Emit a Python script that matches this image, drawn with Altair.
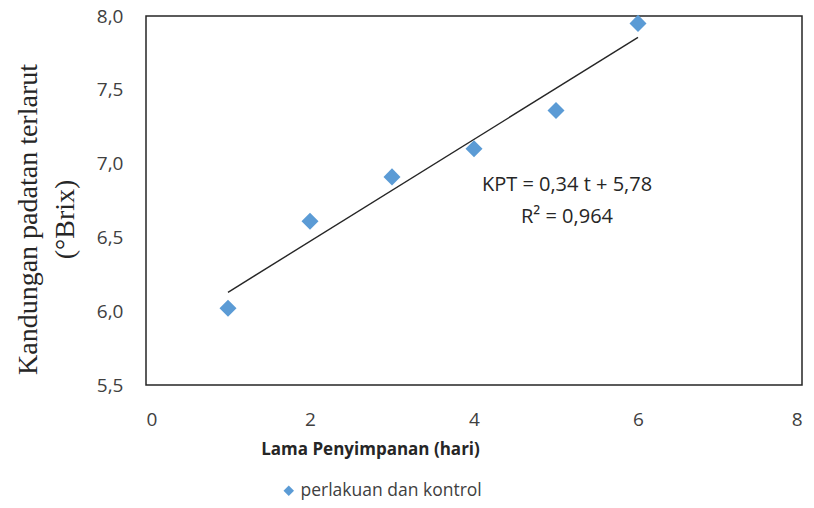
import altair as alt
import pandas as pd

# data
days = [1, 2, 3, 4, 5, 6]
brix = [6.02, 6.61, 6.91, 7.10, 7.36, 7.95]
series_name = "perlakuan dan kontrol"
x_ticks = [0, 2, 4, 6, 8]
y_ticks = [5.5, 6.0, 6.5, 7.0, 7.5, 8.0]
eq_lines = ["KPT = 0,34 t + 5,78", "R\u00b2 = 0,964"]

df = pd.DataFrame({"t": days, "kpt": brix, "seri": [series_name] * len(days)})
ann = pd.DataFrame({"txt": ["\n".join(eq_lines)]})

FONT = "Open Sans"
GREY = "#404040"
BLUE = "#5b9bd5"

x_enc = alt.X(
    "t:Q",
    scale=alt.Scale(domain=[0, 8], nice=False, zero=False),
    axis=alt.Axis(
        values=x_ticks,
        format="d",
        grid=False,
        ticks=False,
        domain=False,
        labelPadding=25,
        labelFont=FONT,
        labelFontSize=19,
        labelColor=GREY,
        title="Lama Penyimpanan (hari)",
        titleFont=FONT,
        titleFontSize=17,
        titleFontWeight="bold",
        titleColor="#262626",
        titleX=224,
        titleY=64,
        titleBaseline="middle",
        titleAlign="center",
    ),
)

y_enc = alt.Y(
    "kpt:Q",
    scale=alt.Scale(domain=[5.5, 8.0], nice=False, zero=False),
    axis=alt.Axis(
        values=y_ticks,
        grid=False,
        ticks=False,
        domain=False,
        labelPadding=23,
        labelFont=FONT,
        labelFontSize=19,
        labelColor=GREY,
        labelExpr="replace(format(datum.value, '.1f'), '.', ',')",
        title=["Kandungan  padatan terlarut", "(\u00b0Brix)"],
        titleFont="Liberation Serif",
        titleFontSize=28,
        titleFontWeight="normal",
        titleColor="#262626",
        titleLineHeight=37,
        titleAngle=270,
        titleX=-118,
        titleY=203,
        titleBaseline="middle",
        titleAlign="center",
    ),
)

points = alt.Chart(df).mark_point(
    shape="diamond", filled=True, size=290, opacity=1
).encode(
    x=x_enc,
    y=y_enc,
    color=alt.Color(
        "seri:N",
        scale=alt.Scale(range=[BLUE]),
        legend=alt.Legend(
            title=None,
            orient="none",
            legendX=134,
            legendY=466,
            symbolType="diamond",
            symbolSize=110,
            labelFont=FONT,
            labelFontSize=17.5,
            labelColor=GREY,
            labelLimit=400,
            symbolOffset=0,
            labelOffset=3,
        ),
    ),
)

trend = alt.Chart(df).transform_regression("t", "kpt").mark_line(
    color="#262626", strokeWidth=1.4
).encode(x=x_enc, y=y_enc)

annot = alt.Chart(ann).mark_text(
    font=FONT, fontSize=20, color="#262626", align="center", baseline="middle",
    lineBreak="\n", lineHeight=32,
).encode(
    text="txt:N",
    x=alt.value(421),
    y=alt.value(169),
)

chart = alt.layer(trend, points, annot).properties(
    width=656,
    height=369,
    autosize=alt.AutoSizeParams(type="none"),
    padding={"left": 146, "top": 16, "right": 12, "bottom": 123},
    background="white",
).configure_view(stroke="#262626", strokeWidth=1.5)

chart.save("out.html", embed_options={"renderer": "svg", "actions": False})
